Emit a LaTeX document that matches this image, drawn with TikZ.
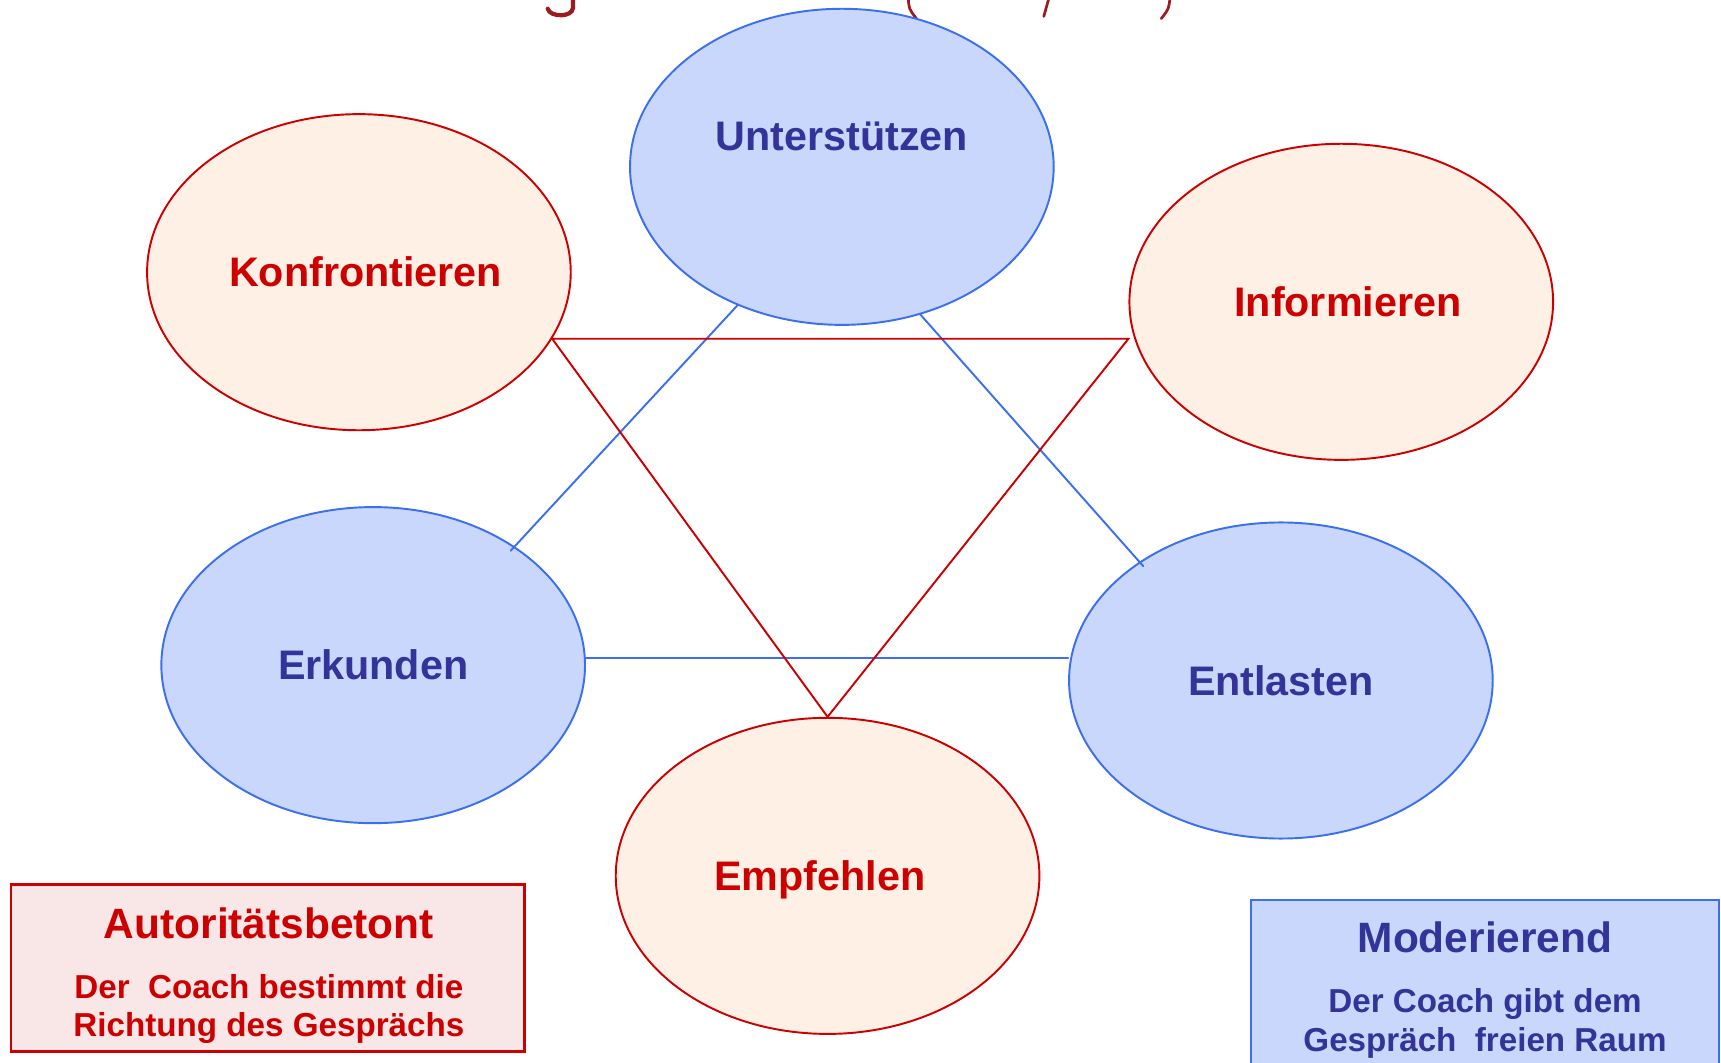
\documentclass[tikz,border=0pt]{standalone}
\usepackage{fontspec}
\setmainfont{Liberation Sans}
\usetikzlibrary{shapes.geometric}
\definecolor{hellblau}{HTML}{C9D7FC}
\definecolor{blaurand}{HTML}{3B6FF0}
\definecolor{dunkelblau}{HTML}{333399}
\definecolor{pfirsich}{HTML}{FEF0E4}
\definecolor{rot}{HTML}{CC0000}
\definecolor{rosa}{HTML}{F9E6E6}
\definecolor{titelrot}{HTML}{9B1B1F}
\tikzset{
	blauell/.style={ellipse,draw=blaurand,fill=hellblau,line width=.5pt,minimum width=3.86cm,minimum height=2.88cm,inner sep=0pt},
	rotell/.style={ellipse,draw=rot,fill=pfirsich,line width=.5pt,minimum width=3.86cm,minimum height=2.88cm,inner sep=0pt},
	blautxt/.style={text=dunkelblau,font=\fontsize{10.7}{12}\selectfont\bfseries},
	rottxt/.style={text=rot,font=\fontsize{10.7}{12}\selectfont\bfseries},
	blaulinie/.style={draw=blaurand,line width=.5pt,shorten >=-1.5pt},
	rotlinie/.style={draw=rot,line width=.5pt,line join=miter},
	kasten/.style={rectangle,line width=.6pt,inner sep=0pt},
	kopf/.style={font=\fontsize{11}{13}\selectfont\bfseries},
	unter/.style={font=\fontsize{8.6}{9.9}\selectfont\bfseries,align=center}
}
\begin{document}
\begin{tikzpicture}[line cap=round]
	\clip (0,0) rectangle (15.68,-9.68);
	% Reste der abgeschnittenen Ueberschrift
	\draw[titelrot,line width=1.1pt] (5.22,.03)--(5.22,-.07) .. controls (5.22,-.16) and (5.01,-.16) .. (4.99,-.08);
	\draw[titelrot,line width=.7pt] (8.275,.03) .. controls (8.28,-.08) .. (8.35,-.17)
	(9.56,.03)--(9.51,-.15)
	(10.66,.03) .. controls (10.65,-.08) .. (10.58,-.17);
	% Ellipsen
	\node[blauell] (unt) at (7.67,-1.52) {};
	\node[rotell] (kon) at (3.27,-2.48) {};
	\node[rotell] (inf) at (12.22,-2.75) {};
	\node[blauell] (erk) at (3.40,-6.06) {};
	\node[blauell] (ent) at (11.67,-6.20) {};
	\node[rotell] (emp) at (7.54,-7.98) {};
	\path
	(unt) ++(0,.28) node[blautxt] (untT) {Unterstützen}
	(kon) ++(.06,0) node[rottxt] (konT) {Konfrontieren}
	(inf) ++(.06,0) node[rottxt] (infT) {Informieren}
	(erk) node[blautxt] (erkT) {Erkunden}
	(ent) node[blautxt] (entT) {Entlasten}
	(emp) ++(-.07,-.04) node[rottxt] (empT) {Empfehlen};
	% Dreiecke
	\draw[blaulinie] (unt.233)--(erk.40);
	\draw[blaulinie] (unt.298)--(ent.140);
	\draw[blaurand,line width=.5pt] (erk.2)--(erk.2 -| ent.west);
	\draw[rotlinie] (kon.-19)--(kon.-19 -| inf.west)--(emp.north)--cycle;
	% Kaesten
	\node[kasten,draw=rot,fill=rosa,minimum width=4.68cm,minimum height=1.52cm] (aut) at (2.44,-8.82) {};
	\node[kopf,text=rot] (autK) at (2.45,-8.41) {Autoritätsbetont};
	\node[unter,text=rot] (autU) at (2.45,-9.195) {Der~~Coach bestimmt die\\Richtung des Gesprächs};
	\node[kasten,draw=blaurand,fill=hellblau,minimum width=4.26cm,minimum height=1.60cm] (mod) at (13.53,-9.00) {};
	\node[kopf,text=dunkelblau] (modK) at (13.53,-8.54) {Moderierend};
	\node[unter,text=dunkelblau] (modU) at (13.53,-9.325) {Der Coach gibt dem\\Gespräch~~freien Raum};
\end{tikzpicture}
\end{document}
